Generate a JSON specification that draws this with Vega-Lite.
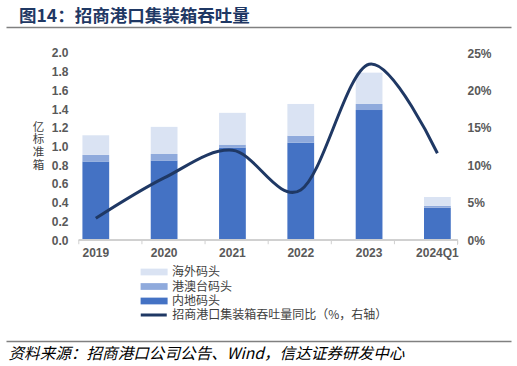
{
  "$schema": "https://vega.github.io/schema/vega-lite/v6.json",
  "width": 505,
  "height": 314,
  "autosize": "none",
  "padding": {"left": 6, "top": 27, "right": 6, "bottom": 25},
  "background": "white",
  "config": {"view": {"stroke": null}, "font": "Liberation Sans"},
  "title": {
    "text": "图14：招商港口集装箱吞吐量",
    "anchor": "start",
    "frame": "group",
    "dx": 13,
    "offset": 2,
    "font": "Noto Sans CJK SC",
    "fontSize": 17.5,
    "fontWeight": "bold",
    "color": "#1F3864"
  },
  "datasets": {
    "bars": [
      {"year": "2019", "type": "内地码头", "k": 1, "value": 0.84},
      {"year": "2019", "type": "港澳台码头", "k": 2, "value": 0.07},
      {"year": "2019", "type": "海外码头", "k": 3, "value": 0.21},
      {"year": "2020", "type": "内地码头", "k": 1, "value": 0.85},
      {"year": "2020", "type": "港澳台码头", "k": 2, "value": 0.07},
      {"year": "2020", "type": "海外码头", "k": 3, "value": 0.29},
      {"year": "2021", "type": "内地码头", "k": 1, "value": 0.99},
      {"year": "2021", "type": "港澳台码头", "k": 2, "value": 0.03},
      {"year": "2021", "type": "海外码头", "k": 3, "value": 0.34},
      {"year": "2022", "type": "内地码头", "k": 1, "value": 1.04},
      {"year": "2022", "type": "港澳台码头", "k": 2, "value": 0.075},
      {"year": "2022", "type": "海外码头", "k": 3, "value": 0.34},
      {"year": "2023", "type": "内地码头", "k": 1, "value": 1.39},
      {"year": "2023", "type": "港澳台码头", "k": 2, "value": 0.065},
      {"year": "2023", "type": "海外码头", "k": 3, "value": 0.335},
      {"year": "2024Q1", "type": "内地码头", "k": 1, "value": 0.345},
      {"year": "2024Q1", "type": "港澳台码头", "k": 2, "value": 0.02},
      {"year": "2024Q1", "type": "海外码头", "k": 3, "value": 0.095}
    ],
    "yoy": [
      {"year": "2019", "yoy": 2.9},
      {"year": "2020", "yoy": 8.3},
      {"year": "2021", "yoy": 12.0},
      {"year": "2022", "yoy": 6.7},
      {"year": "2023", "yoy": 23.5},
      {"year": "2024Q1", "yoy": 11.6}
    ]
  },
  "layer": [
    {
      "data": {"name": "bars"},
      "mark": {"type": "bar"},
      "encoding": {
        "x": {
          "field": "year",
          "type": "nominal",
          "sort": null,
          "scale": {"type": "band", "domain": ["2019", "2020", "2021", "2022", "2023", "2024Q1"], "paddingInner": 0.6083, "paddingOuter": 1.3409, "align": 0.5593},
          "axis": {
            "orient": "bottom",
            "offset": -101,
            "domain": false,
            "ticks": false,
            "grid": false,
            "labelAngle": 0,
            "labelPadding": 7,
            "labelFont": "Liberation Sans",
            "labelFontSize": 12,
            "labelFontWeight": "bold",
            "labelColor": "#595959",
            "title": "资料来源：招商港口公司公告、Wind，信达证券研发中心",
            "titleFont": "Noto Sans CJK SC",
            "titleFontStyle": "italic",
            "titleFontWeight": "normal",
            "titleFontSize": 15.6,
            "titleColor": "#000000",
            "titleAnchor": "start",
            "titleAlign": "left",
            "titleBaseline": "middle",
            "titleX": 2,
            "titleY": 113
          }
        },
        "y": {
          "field": "value",
          "type": "quantitative",
          "stack": "zero",
          "scale": {"domain": [-1.08, 2.278], "nice": false, "zero": false},
          "axis": {
            "orient": "left",
            "offset": -75,
            "values": [0, 0.2, 0.4, 0.6, 0.8, 1.0, 1.2, 1.4, 1.6, 1.8, 2.0],
            "format": ".1f",
            "labelOverlap": false,
            "domain": false,
            "ticks": false,
            "grid": false,
            "labelPadding": 13,
            "labelFont": "Liberation Sans",
            "labelFontSize": 12,
            "labelFontWeight": "bold",
            "labelColor": "#595959",
            "title": ["亿", "标", "准", "箱"],
            "titleAngle": 0,
            "titleX": -43,
            "titleY": 94,
            "titleAlign": "center",
            "titleBaseline": "top",
            "titleFont": "Noto Sans CJK SC",
            "titleFontSize": 11.5,
            "titleFontWeight": "normal",
            "titleColor": "#404040",
            "titleLineHeight": 12.8
          }
        },
        "fill": {
          "field": "type",
          "type": "nominal",
          "scale": {
            "domain": ["海外码头", "港澳台码头", "内地码头"],
            "range": ["#DAE3F3", "#8FAADC", "#4472C4"]
          },
          "legend": {
            "orient": "none",
            "legendX": 142.1,
            "legendY": 239,
            "title": null,
            "padding": 0,
            "symbolType": "M-4,-1H4V1H-4Z",
            "symbolSize": 45.6,
            "symbolStrokeWidth": 0,
            "rowPadding": 2.5,
            "labelOffset": 11.85,
            "labelLimit": 400,
            "labelFont": "Noto Sans CJK SC",
            "labelFontSize": 12,
            "labelColor": "#404040"
          }
        },
        "order": {"field": "k", "type": "quantitative", "sort": "ascending"}
      }
    },
    {
      "layer": [
        {
          "data": {"name": "yoy"},
          "mark": {"type": "rule", "color": "#D0D0D0", "strokeWidth": 1},
          "encoding": {
            "x": {"datum": "2019", "bandPosition": 0, "scale": {"type": "band", "domain": ["2019", "2020", "2021", "2022", "2023", "2024Q1"], "paddingInner": 0, "paddingOuter": 1.0367, "align": 0.5767}, "axis": {"orient": "top", "offset": 0, "domain": true, "domainColor": "#808080", "domainWidth": 1.5, "labels": false, "ticks": false, "grid": false, "title": null}},
            "x2": {"datum": "2024Q1", "bandPosition": 1},
            "y": {"datum": 0, "type": "quantitative", "scale": {"domain": [-1.08, 2.278], "nice": false, "zero": false}, "axis": null}
          }
        },
        {
          "data": {"name": "yoy"},
          "mark": {"type": "rule", "color": "#D0D0D0", "strokeWidth": 1},
          "encoding": {
            "x": {"field": "year", "type": "nominal", "bandPosition": 0, "scale": {"type": "band", "domain": ["2019", "2020", "2021", "2022", "2023", "2024Q1"], "paddingInner": 0, "paddingOuter": 1.0367, "align": 0.5767}, "axis": {"orient": "top", "offset": 0, "domain": true, "domainColor": "#808080", "domainWidth": 1.5, "labels": false, "ticks": false, "grid": false, "title": null}},
            "y": {"datum": 0, "type": "quantitative", "scale": {"domain": [-1.08, 2.278], "nice": false, "zero": false}, "axis": null},
            "y2": {"datum": -0.045}
          }
        },
        {
          "data": {"name": "yoy"},
          "mark": {"type": "rule", "color": "#D0D0D0", "strokeWidth": 1},
          "encoding": {
            "x": {"datum": "2024Q1", "bandPosition": 1, "scale": {"type": "band", "domain": ["2019", "2020", "2021", "2022", "2023", "2024Q1"], "paddingInner": 0, "paddingOuter": 1.0367, "align": 0.5767}, "axis": {"orient": "top", "offset": 0, "domain": true, "domainColor": "#808080", "domainWidth": 1.5, "labels": false, "ticks": false, "grid": false, "title": null}},
            "y": {"datum": 0, "type": "quantitative", "scale": {"domain": [-1.08, 2.278], "nice": false, "zero": false}, "axis": null},
            "y2": {"datum": -0.045}
          }
        }
      ]
    },
    {
      "data": {"name": "yoy"},
      "mark": {"type": "line", "interpolate": "cardinal", "strokeWidth": 3},
      "encoding": {
        "x": {
          "field": "year",
          "type": "nominal",
          "sort": null,
          "bandPosition": 0.5,
          "scale": {"type": "band", "domain": ["2019", "2020", "2021", "2022", "2023", "2024Q1"], "paddingInner": 0.6083, "paddingOuter": 1.3409, "align": 0.5593},
          "axis": {"orient": "bottom", "offset": 0, "domain": true, "domainColor": "#808080", "domainWidth": 1.5, "labels": false, "ticks": false, "grid": false, "title": null}
        },
        "y": {
          "field": "yoy",
          "type": "quantitative",
          "scale": {"domain": [-13.5, 28.48], "nice": false, "zero": false},
          "axis": {
            "orient": "right",
            "offset": -56,
            "values": [0, 5, 10, 15, 20, 25],
            "labelExpr": "datum.value + '%'",
            "labelOverlap": false,
            "domain": false,
            "ticks": false,
            "grid": false,
            "labelPadding": 12,
            "labelFont": "Liberation Sans",
            "labelFontSize": 12,
            "labelFontWeight": "bold",
            "labelColor": "#595959",
            "title": null
          }
        },
        "stroke": {
          "datum": "招商港口集装箱吞吐量同比（%，右轴）",
          "scale": {"range": ["#1F3864"]},
          "legend": {
            "orient": "none",
            "legendX": 141.75,
            "legendY": 282,
            "title": null,
            "padding": 0,
            "symbolType": "M-4,0H4",
            "symbolSize": 42.25,
            "symbolStrokeWidth": 3,
            "labelOffset": 12.45,
            "labelLimit": 400,
            "labelFont": "Noto Sans CJK SC",
            "labelFontSize": 12,
            "labelColor": "#404040"
          }
        }
      }
    }
  ],
  "resolve": {"scale": {"y": "independent", "x": "independent"}}
}
